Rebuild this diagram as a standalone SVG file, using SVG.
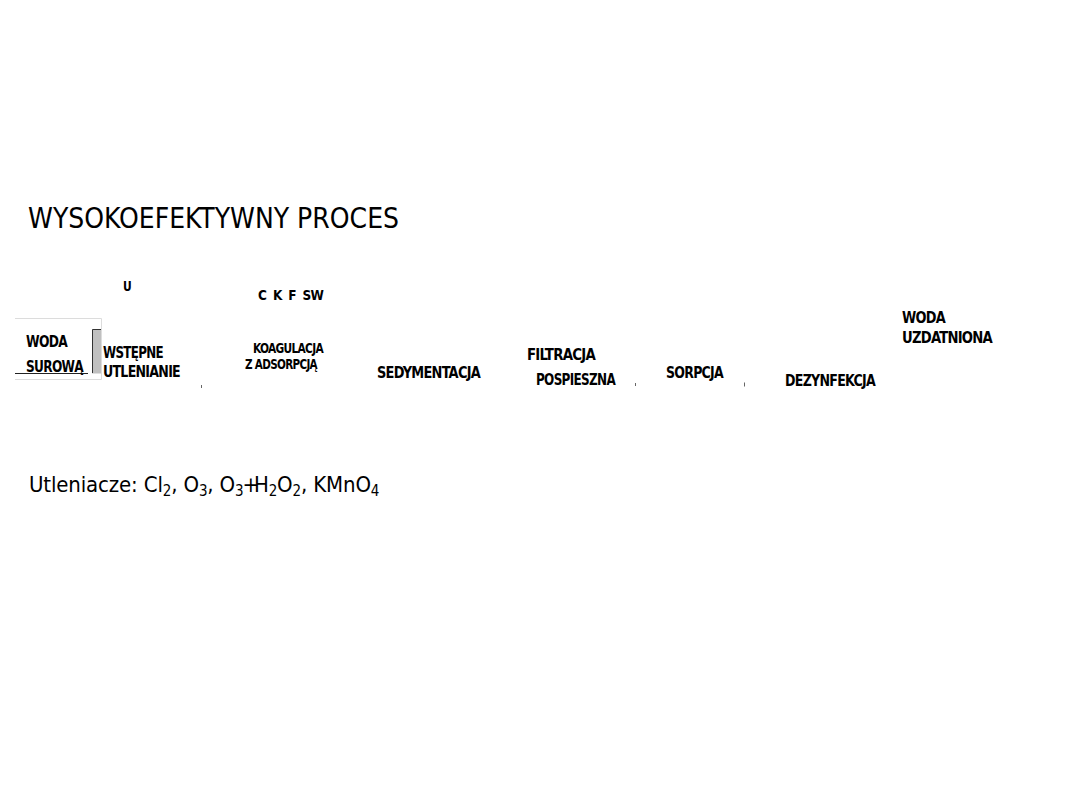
<svg xmlns="http://www.w3.org/2000/svg" width="1080" height="810" viewBox="0 0 1080 810">
<style>
.t{font-family:"DejaVu Sans Condensed","DejaVu Sans",sans-serif;fill:#000}
.b{font-family:"DejaVu Sans Condensed","DejaVu Sans",sans-serif;font-weight:bold;fill:#000;font-size:15.5px;letter-spacing:-0.8px}
.s{font-size:13.5px}
.faint{stroke:#dcdcdc;stroke-width:1;fill:none}
.dot{fill:#666}
</style>
<rect width="1080" height="810" fill="#fff"/>
<g id="title"><text class="t" x="28" y="227.5" font-size="29" textLength="371" lengthAdjust="spacingAndGlyphs">WYSOKOEFEKTYWNY PROCES</text></g>
<g id="connectors"/>
<g id="woda-surowa">
<path class="faint" d="M15 318.5H101.5V379.5H15"/>
<line x1="15" y1="373.5" x2="88" y2="373.5" stroke="#222" stroke-width="1"/>
<rect x="92" y="329.5" width="9" height="44" fill="#c0c0c0"/>
<path d="M92.5 373V329.5H101" fill="none" stroke="#333" stroke-width="1"/>
<text class="b" x="26" y="347" textLength="41" lengthAdjust="spacingAndGlyphs">WODA</text>
<text class="b" x="26" y="372" textLength="57" lengthAdjust="spacingAndGlyphs">SUROWĄ</text>
</g>
<g id="u"><text class="b s" x="123" y="291" textLength="8" lengthAdjust="spacingAndGlyphs">U</text></g>
<g id="ckfsw"><text class="b s" x="258" y="300" textLength="65" lengthAdjust="spacingAndGlyphs" xml:space="preserve">C  K  F  SW</text></g>
<g id="wstepne">
<text class="b" x="103" y="358.3" textLength="60" lengthAdjust="spacingAndGlyphs">WSTĘPNE</text>
<text class="b" x="103" y="377.3" textLength="77" lengthAdjust="spacingAndGlyphs">UTLENIANIE</text>
<rect class="dot" x="201" y="385" width="1" height="3"/>
</g>
<g id="koagulacja">
<text class="b s" x="253" y="353.3" textLength="70" lengthAdjust="spacingAndGlyphs">KOAGULACJA</text>
<text class="b s" x="245" y="369.3" textLength="72" lengthAdjust="spacingAndGlyphs">Z ADSORPCJĄ</text>
</g>
<g id="sedymentacja"><text class="b" x="377" y="378.3" textLength="103" lengthAdjust="spacingAndGlyphs">SEDYMENTACJA</text></g>
<g id="filtracja">
<text class="b" x="527" y="360" textLength="68" lengthAdjust="spacingAndGlyphs">FILTRACJA</text>
<text class="b" x="536" y="385" textLength="79" lengthAdjust="spacingAndGlyphs">POSPIESZNA</text>
<rect class="dot" x="635" y="383" width="1" height="3"/>
</g>
<g id="sorpcja">
<text class="b" x="666" y="378.3" textLength="57" lengthAdjust="spacingAndGlyphs">SORPCJA</text>
<rect class="dot" x="744" y="382.5" width="1" height="4"/>
</g>
<g id="dezynfekcja"><text class="b" x="785" y="386" textLength="90" lengthAdjust="spacingAndGlyphs">DEZYNFEKCJA</text></g>
<g id="woda-uzdatniona">
<text class="b" x="902" y="323.3" textLength="43" lengthAdjust="spacingAndGlyphs">WODA</text>
<text class="b" x="902" y="343.3" textLength="90" lengthAdjust="spacingAndGlyphs">UZDATNIONA</text>
</g>
<g id="utleniacze"><text class="t" x="29" y="492" font-size="22" letter-spacing="-0.15">Utleniacze: Cl<tspan font-size="15" dy="4">2</tspan><tspan dy="-4">, O</tspan><tspan font-size="15" dy="4">3</tspan><tspan dy="-4">, O</tspan><tspan font-size="15" dy="4">3</tspan><tspan dy="-4" dx="-1">+</tspan><tspan dx="-5">H</tspan><tspan font-size="15" dy="4">2</tspan><tspan dy="-4">O</tspan><tspan font-size="15" dy="4">2</tspan><tspan dy="-4">, KMnO</tspan><tspan font-size="15" dy="4">4</tspan></text></g>
</svg>
